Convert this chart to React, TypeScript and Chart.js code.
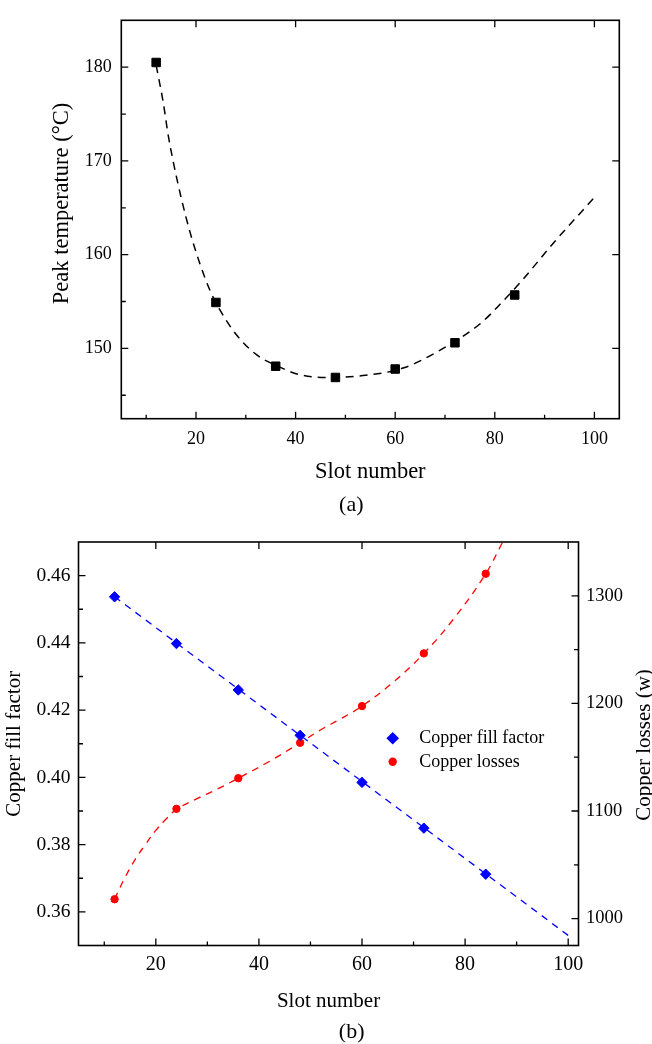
import React, { useEffect, useRef } from 'react';
import { Chart, registerables } from 'chart.js';

Chart.register(...registerables);

const SERIF = "'Liberation Serif', 'Times New Roman', Times, serif";

// ---------- (a) Peak temperature ----------
const slotNumbers = [12, 24, 36, 48, 60, 72, 84];
const peakTemperature = [180.5, 154.9, 148.1, 146.9, 147.8, 150.6, 155.7];
const tempFitX = [12, 13.4, 14.4, 15.4, 17.1, 18.8, 20.8, 22.8, 24.8, 28.2, 32.2, 36, 40.8, 46.9, 53.5, 61.6, 68.3, 77, 81.4, 85.4, 91.7, 100];
const tempFitY = [180.2, 176.3, 172.8, 170.0, 165.9, 162.4, 159.0, 156.2, 154.1, 151.4, 149.3, 148.2, 147.2, 146.9, 147.1, 147.9, 149.6, 152.6, 154.9, 157.2, 161.2, 166.1];
const slotTicks = [20, 40, 60, 80, 100];
const slotMinorTicks = [10, 30, 50, 70, 90];
const tempTicks = [150, 160, 170, 180];
const tempMinorTicks = [145, 155, 165, 175];

// ---------- (b) Copper fill factor & losses ----------
const fillFactor = [0.4537, 0.4398, 0.426, 0.4125, 0.3985, 0.3849, 0.3712];
const fillFitX = [12, 100];
const fillFitY = [0.4537, 0.353];
const copperLosses = [1018, 1102, 1130.5, 1163.4, 1197.5, 1246.5, 1320.5];
const lossFitX = [12, 14, 16, 18, 20, 22, 24, 28, 32, 36, 42, 48, 52, 56, 60, 66, 72, 78, 84, 87.3];
const lossFitY = [1018, 1038, 1055, 1069, 1082, 1092.5, 1101.5, 1111.5, 1120.5, 1130.5, 1146, 1163.4, 1175.5, 1186, 1197.5, 1219.5, 1246.5, 1280, 1320.5, 1350];
const fillTicks = [0.36, 0.38, 0.4, 0.42, 0.44, 0.46];
const fillMinorTicks = [0.37, 0.39, 0.41, 0.43, 0.45];
const lossTicks = [1000, 1100, 1200, 1300];
const lossMinorTicks = [1050, 1150, 1250];

const legendLabels = ['Copper fill factor', 'Copper losses'];

type TickSpec = { scale: string; values: number[]; len: number; edge: 'bottom' | 'top' | 'left' | 'right' };
type TextSpec = { text: string; x: number; y: number; size: number; rotate?: boolean; align?: CanvasTextAlign };
type MarkSpec = { shape: 'diamond' | 'circle'; x: number; y: number; r: number; color: string };

function decorPlugin(ticks: TickSpec[], texts: TextSpec[], marks: MarkSpec[]) {
  return {
    id: 'decor',
    afterDraw(chart: any) {
      const { ctx, chartArea } = chart;
      const { left, right, top, bottom } = chartArea;
      ctx.save();
      ctx.strokeStyle = '#000';
      ctx.lineWidth = 1.3;
      ctx.beginPath();
      for (const t of ticks) {
        const s = chart.scales[t.scale];
        for (const v of t.values) {
          const p = s.getPixelForValue(v);
          if (t.edge === 'bottom') { ctx.moveTo(p, bottom); ctx.lineTo(p, bottom - t.len); }
          else if (t.edge === 'top') { ctx.moveTo(p, top); ctx.lineTo(p, top + t.len); }
          else if (t.edge === 'left') { ctx.moveTo(left, p); ctx.lineTo(left + t.len, p); }
          else { ctx.moveTo(right, p); ctx.lineTo(right - t.len, p); }
        }
      }
      ctx.stroke();
      ctx.lineWidth = 1.6;
      ctx.strokeRect(left, top, right - left, bottom - top);

      ctx.fillStyle = '#000';
      ctx.textBaseline = 'alphabetic';
      for (const t of texts) {
        ctx.save();
        ctx.font = `${t.size}px ${SERIF}`;
        ctx.textAlign = t.align || 'center';
        ctx.translate(t.x, t.y);
        if (t.rotate) ctx.rotate(-Math.PI / 2);
        ctx.fillText(t.text, 0, 0);
        ctx.restore();
      }
      for (const m of marks) {
        ctx.fillStyle = m.color;
        ctx.beginPath();
        if (m.shape === 'diamond') {
          ctx.moveTo(m.x - m.r, m.y);
          ctx.lineTo(m.x, m.y - m.r);
          ctx.lineTo(m.x + m.r, m.y);
          ctx.lineTo(m.x, m.y + m.r);
          ctx.closePath();
        } else {
          ctx.arc(m.x, m.y, m.r, 0, Math.PI * 2);
        }
        ctx.fill();
      }
      ctx.restore();
    },
  };
}

const tickFont = (size: number) => ({ family: SERIF, size });

function makeTopChart(canvas: HTMLCanvasElement) {
  return new Chart(canvas, {
    type: 'line',
    data: {
      datasets: [
        {
          label: 'Peak temperature',
          data: slotNumbers.map((x, i) => ({ x, y: peakTemperature[i] })),
          showLine: false,
          pointStyle: 'rect',
          pointRadius: 6,
          pointBackgroundColor: '#000',
          pointBorderColor: '#000',
          pointBorderWidth: 1,
          order: 0,
        },
        {
          label: 'Fit',
          data: tempFitX.map((x, i) => ({ x, y: tempFitY[i] })),
          borderColor: '#000',
          borderWidth: 1.5,
          borderDash: [8, 6],
          pointRadius: 0,
          cubicInterpolationMode: 'monotone',
          fill: false,
          order: 1,
        },
      ],
    } as any,
    options: {
      animation: false,
      responsive: false,
      events: [],
      layout: { padding: { left: 0, right: 32.7, top: 9, bottom: 0 } },
      plugins: { legend: { display: false }, tooltip: { enabled: false } },
      scales: {
        x: {
          type: 'linear',
          min: 5,
          max: 105,
          afterBuildTicks: (s: any) => { s.ticks = slotTicks.map((v) => ({ value: v })); },
          afterFit: (s: any) => { s.height = 101.3; },
          grid: { display: false, drawTicks: false },
          border: { display: false },
          ticks: { font: tickFont(18), color: '#000', padding: 9.5, autoSkip: false, maxRotation: 0, callback: (v: any) => String(v) },
          title: { display: true, text: 'Slot number', color: '#000', font: { family: SERIF, size: 22.5 }, padding: { top: 0, bottom: 34.1 } },
        },
        y: {
          type: 'linear',
          min: 142.5,
          max: 185,
          afterBuildTicks: (s: any) => { s.ticks = tempTicks.map((v) => ({ value: v })); },
          afterFit: (s: any) => { s.width = 121.3; },
          grid: { display: false, drawTicks: false },
          border: { display: false },
          ticks: { font: tickFont(18), color: '#000', padding: 9.5, autoSkip: false, callback: (v: any) => String(v) },
        },
      },
    } as any,
    plugins: [
      decorPlugin(
        [
          { scale: 'x', values: slotTicks, len: 7, edge: 'bottom' },
          { scale: 'x', values: slotMinorTicks, len: 4, edge: 'bottom' },
          { scale: 'x', values: slotTicks, len: 7, edge: 'top' },
          { scale: 'y', values: tempTicks, len: 7, edge: 'left' },
          { scale: 'y', values: tempMinorTicks, len: 4.5, edge: 'left' },
          { scale: 'y', values: tempTicks, len: 7, edge: 'right' },
        ],
        [
          { text: 'Peak temperature (°C)', x: 68, y: 203.5, size: 22.5, rotate: true },
          { text: '(a)', x: 351.3, y: 510.5, size: 22 },
        ],
        []
      ) as any,
    ],
  });
}

function makeBottomChart(canvas: HTMLCanvasElement) {
  return new Chart(canvas, {
    type: 'line',
    data: {
      datasets: [
        {
          label: legendLabels[0],
          data: slotNumbers.map((x, i) => ({ x, y: fillFactor[i] })),
          yAxisID: 'y',
          showLine: false,
          pointStyle: 'rectRot',
          pointRadius: 5.2,
          pointBackgroundColor: '#0000ff',
          pointBorderColor: '#0000ff',
          pointBorderWidth: 1,
          order: 0,
        },
        {
          label: legendLabels[1],
          data: slotNumbers.map((x, i) => ({ x, y: copperLosses[i] })),
          yAxisID: 'y1',
          showLine: false,
          pointStyle: 'circle',
          pointRadius: 3.7,
          pointBackgroundColor: '#ff0000',
          pointBorderColor: '#ff0000',
          pointBorderWidth: 1,
          order: 0,
        },
        {
          label: 'Fill factor fit',
          data: fillFitX.map((x, i) => ({ x, y: fillFitY[i] })),
          yAxisID: 'y',
          borderColor: '#0000ff',
          borderWidth: 1.3,
          borderDash: [7, 6],
          pointRadius: 0,
          fill: false,
          order: 1,
        },
        {
          label: 'Losses fit',
          data: lossFitX.map((x, i) => ({ x, y: lossFitY[i] })),
          yAxisID: 'y1',
          borderColor: '#ff0000',
          borderWidth: 1.3,
          borderDash: [7, 6],
          pointRadius: 0,
          tension: 0.4,
          fill: false,
          order: 1,
        },
      ],
    } as any,
    options: {
      animation: false,
      responsive: false,
      events: [],
      layout: { padding: { left: 0, right: 0, top: 22, bottom: 0 } },
      plugins: { legend: { display: false }, tooltip: { enabled: false } },
      scales: {
        x: {
          type: 'linear',
          min: 5,
          max: 102,
          afterBuildTicks: (s: any) => { s.ticks = slotTicks.map((v) => ({ value: v })); },
          afterFit: (s: any) => { s.height = 98.5; },
          grid: { display: false, drawTicks: false },
          border: { display: false },
          ticks: { font: tickFont(20), color: '#000', padding: 7.5, autoSkip: false, maxRotation: 0, callback: (v: any) => String(v) },
          title: { display: true, text: 'Slot number', color: '#000', font: { family: SERIF, size: 21 }, padding: { top: 0, bottom: 30.2 } },
        },
        y: {
          type: 'linear',
          position: 'left',
          min: 0.35,
          max: 0.47,
          afterBuildTicks: (s: any) => { s.ticks = fillTicks.map((v) => ({ value: v })); },
          afterFit: (s: any) => { s.width = 78.5; },
          grid: { display: false, drawTicks: false },
          border: { display: false },
          ticks: { font: tickFont(19.5), color: '#000', padding: 8, autoSkip: false, callback: (v: any) => Number(v).toFixed(2) },
          title: { display: true, text: 'Copper fill factor', color: '#000', font: { family: SERIF, size: 21 }, padding: { top: 1.8, bottom: 0 } },
        },
        y1: {
          type: 'linear',
          position: 'right',
          min: 975,
          max: 1350,
          afterBuildTicks: (s: any) => { s.ticks = lossTicks.map((v) => ({ value: v })); },
          afterFit: (s: any) => { s.width = 73.5; },
          grid: { display: false, drawTicks: false },
          border: { display: false },
          ticks: { font: tickFont(18.5), color: '#000', padding: 7.5, autoSkip: false, callback: (v: any) => String(v) },
        },
      },
    } as any,
    plugins: [
      decorPlugin(
        [
          { scale: 'x', values: slotTicks, len: 7, edge: 'bottom' },
          { scale: 'x', values: slotMinorTicks, len: 4, edge: 'bottom' },
          { scale: 'x', values: slotTicks, len: 7, edge: 'top' },
          { scale: 'y', values: fillTicks, len: 7, edge: 'left' },
          { scale: 'y', values: fillMinorTicks, len: 4.5, edge: 'left' },
          { scale: 'y1', values: lossTicks, len: 7, edge: 'right' },
          { scale: 'y1', values: lossMinorTicks, len: 4.5, edge: 'right' },
        ],
        [
          { text: 'Copper losses (w)', x: 649.5, y: 225, size: 21, rotate: true },
          { text: '(b)', x: 351.7, y: 518, size: 22 },
          { text: legendLabels[0], x: 419.3, y: 223.3, size: 18, align: 'left' },
          { text: legendLabels[1], x: 419.3, y: 246.7, size: 18, align: 'left' },
        ],
        [
          { shape: 'diamond', x: 392.7, y: 218.3, r: 6.3, color: '#0000ff' },
          { shape: 'circle', x: 392.7, y: 241.7, r: 4.2, color: '#ff0000' },
        ]
      ) as any,
    ],
  });
}

export default function App() {
  const topRef = useRef<HTMLCanvasElement | null>(null);
  const bottomRef = useRef<HTMLCanvasElement | null>(null);

  useEffect(() => {
    const a = topRef.current ? makeTopChart(topRef.current) : null;
    const b = bottomRef.current ? makeBottomChart(bottomRef.current) : null;
    return () => {
      a?.destroy();
      b?.destroy();
    };
  }, []);

  return (
    <div style={{ position: 'absolute', left: 0, top: 0, width: 652, height: 1044, background: '#fff' }}>
      <canvas ref={topRef} width={652} height={520} style={{ position: 'absolute', left: 0, top: 0, width: 652, height: 520 }} />
      <canvas ref={bottomRef} width={652} height={524} style={{ position: 'absolute', left: 0, top: 520, width: 652, height: 524 }} />
    </div>
  );
}
